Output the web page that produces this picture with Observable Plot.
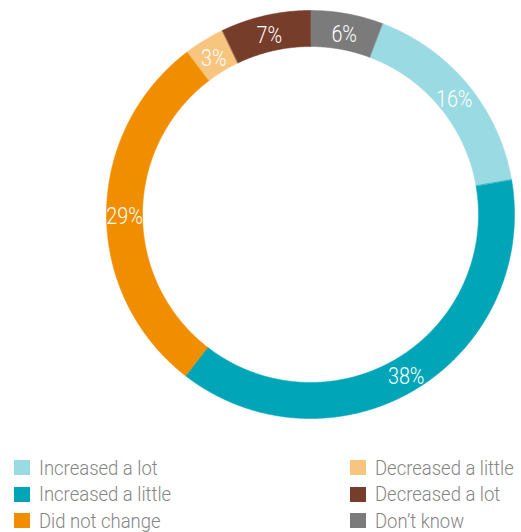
<!DOCTYPE html>
<html><head><meta charset="utf-8">
<script src="https://cdn.jsdelivr.net/npm/d3@7"></script>
<script src="https://cdn.jsdelivr.net/npm/@observablehq/plot@0.6"></script>
<style>
body{margin:0;background:#fff;font-family:Roboto,"Liberation Sans",sans-serif;}
#wrap{position:relative;width:521px;height:532px;overflow:hidden;}
#chart{position:absolute;left:0;top:0;}
.item{position:absolute;display:flex;align-items:center;height:26px;}
.sw{width:16px;height:15px;margin-right:9px;flex:none;}
.lb{font-size:21px;font-weight:300;color:#858585;display:inline-block;transform:scaleX(0.88);transform-origin:left center;white-space:nowrap;line-height:26px;}
</style></head><body><div id="wrap"><div id="chart"></div></div>
<script>
// Data (clockwise from 12 o'clock)
const categories = ["Don’t know","Increased a lot","Increased a little","Did not change","Decreased a little","Decreased a lot"];
const shares = [5.8, 16.5, 38.2, 29.2, 3.2, 7.1];
const labels = ["6%","16%","38%","29%","3%","7%"];
const colors = ["#7b7b7c","#9adae3","#00a6b8","#f18e00","#f8c580","#763d2b"];
// Legend layout (two columns)
const legendLeft = ["Increased a lot","Increased a little","Did not change"];
const legendRight = ["Decreased a little","Decreased a lot","Don’t know"];

const W = 521, H = 448;
const cx = 310, cy = 214, R = 204, r0 = 168, rLabel = 186;
const total = d3.sum(shares);

const pts = [];
const labs = [];
let acc = 0;
categories.forEach((c, i) => {
  const a0 = acc / total * 2 * Math.PI;
  acc += shares[i];
  const a1 = acc / total * 2 * Math.PI;
  const n = Math.max(4, Math.ceil((a1 - a0) / 0.005));
  for (let k = 0; k <= n; k++) {
    const a = a0 + (a1 - a0) * k / n;
    pts.push({cat: c, x: R * Math.sin(a), y: -R * Math.cos(a)});
  }
  for (let k = n; k >= 0; k--) {
    const a = a0 + (a1 - a0) * k / n;
    pts.push({cat: c, x: r0 * Math.sin(a), y: -r0 * Math.cos(a)});
  }
  const am = (a0 + a1) / 2;
  labs.push({text: labels[i], x: rLabel * Math.sin(am), y: -rLabel * Math.cos(am)});
});

const plot = Plot.plot({
  width: W, height: H,
  margin: 0,
  x: {type: "linear", domain: [-cx, W - cx], range: [0, W], axis: null},
  y: {type: "linear", domain: [-cy, H - cy], range: [0, H], axis: null},
  color: {domain: categories, range: colors},
  style: {fontFamily: "Roboto, 'Liberation Sans', sans-serif", background: "white"},
  marks: [
    Plot.line(pts, {x: "x", y: "y", z: "cat", fill: "cat", stroke: "cat", strokeWidth: 0.6, curve: "linear-closed"}),
    Plot.text(labs, {x: "x", y: "y", text: "text", fill: "white", fontSize: 23, fontWeight: 300, textAnchor: "middle", dy: 3})
  ]
});
document.getElementById("chart").appendChild(plot);
// condense label text horizontally
plot.querySelectorAll("text").forEach(t => {
  const tr = t.getAttribute("transform") || "";
  t.setAttribute("transform", tr + " scale(0.86,1)");
});

const colorOf = Object.fromEntries(categories.map((c, i) => [c, colors[i]]));
const wrap = document.getElementById("wrap");
const rowCenters = [467.5, 494, 520.5];
function addCol(list, left) {
  list.forEach((c, i) => {
    const it = document.createElement("div");
    it.className = "item";
    it.style.left = left + "px";
    it.style.top = (rowCenters[i] - 13) + "px";
    it.innerHTML = `<span class="sw" style="background:${colorOf[c]}"></span><span class="lb">${c}</span>`;
    wrap.appendChild(it);
  });
}
addCol(legendLeft, 14);
addCol(legendRight, 350);
</script></body></html>
